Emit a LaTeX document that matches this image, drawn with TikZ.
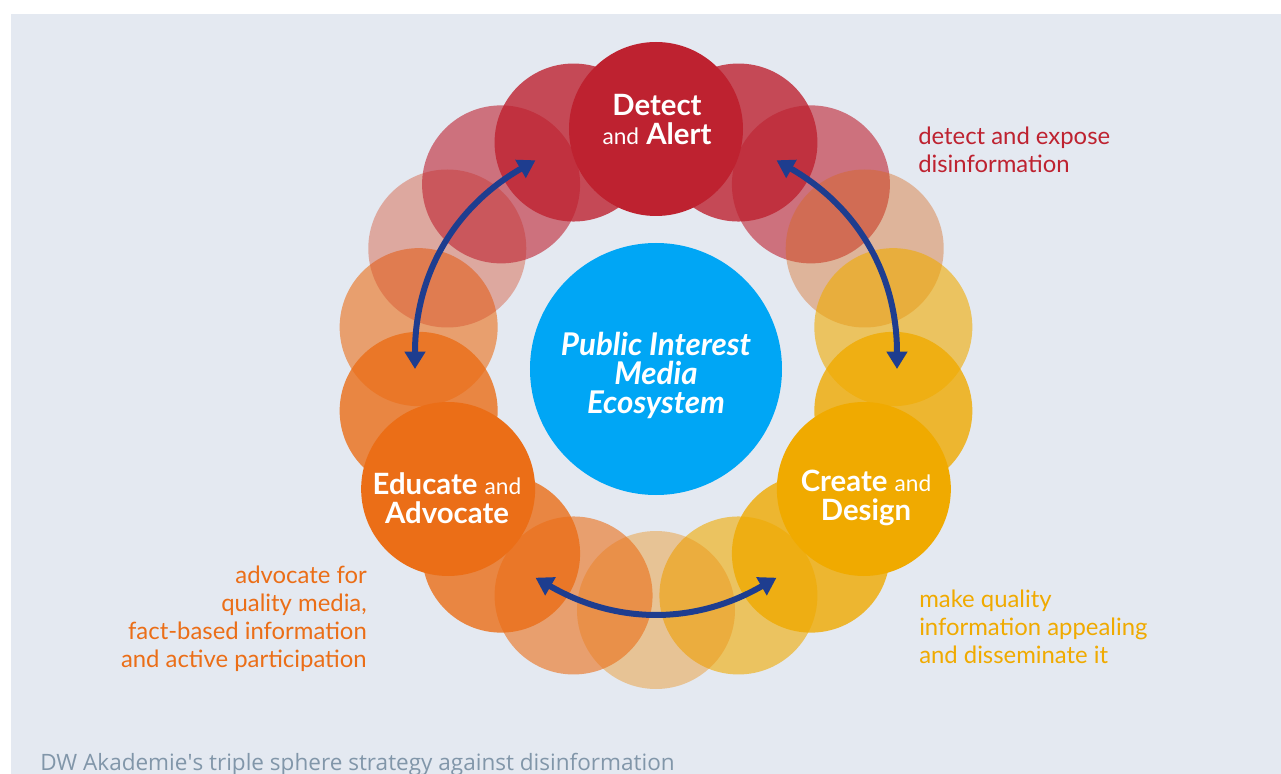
\documentclass[tikz,border=0pt]{standalone}
\usepackage{fontspec}
\setmainfont{Lato}
\newfontfamily\captionfont{Open Sans}
\usetikzlibrary{arrows.meta}

\definecolor{bgblue}{HTML}{E4E9F1}
\definecolor{detectred}{HTML}{BE2230}
\definecolor{createyellow}{HTML}{F0AA00}
\definecolor{educateorange}{HTML}{EB6E17}
\definecolor{ecoblue}{HTML}{00A6F5}
\definecolor{arrowblue}{HTML}{1E3D8F}
\definecolor{captiongrey}{HTML}{8196A9}
\colorlet{redyellow}{detectred!50!createyellow}
\colorlet{yelloworange}{createyellow!50!educateorange}
\colorlet{redorange}{detectred!50!educateorange}

\newcommand{\andword}{{\fontsize{17}{21.75}\selectfont\mdseries and}}

\tikzstyle{ring} = [circle,minimum size=118.5pt,inner sep=0pt]
\tikzstyle{sphere} = [circle,minimum size=130.5pt,inner sep=0pt]
\tikzstyle{hub} = [circle,minimum size=189pt,inner sep=0pt,fill=ecoblue]
\tikzstyle{hublabel} = [text=white,align=center,font=\fontsize{23.5}{21.75}\selectfont\bfseries\itshape]
\tikzstyle{spherelabel} = [text=white,align=center,font=\fontsize{22}{21.75}\selectfont\bfseries]
\tikzstyle{note} = [inner sep=0pt,align=left,font=\fontsize{17.9}{21}\selectfont]
\tikzstyle{arrowdecorate} = [{Triangle[length=13pt,width=15pt]}-{Triangle[length=13pt,width=15pt]},line width=4.5pt,draw=arrowblue]

\begin{document}
\begin{tikzpicture}[x=0.75pt,y=0.75pt]
    % frame
    \useasboundingbox (-656,-405) rectangle (625,369);
    \fill[white] (-656,-405) rectangle (625,369);
    \fill[bgblue] (-645,-405) rectangle (625,355);
    % ring
    \foreach \i/\ang/\col/\op in {
      1/70/detectred/0.8, 2/50/detectred/0.6, 3/30/redyellow/0.4,
      4/10/createyellow/0.6, 5/-10/createyellow/0.8,
      6/-50/createyellow/0.8, 7/-70/createyellow/0.6, 8/-90/yelloworange/0.4,
      9/-110/educateorange/0.6, 10/-130/educateorange/0.8,
      11/190/educateorange/0.8, 12/170/educateorange/0.6, 13/150/redorange/0.4,
      14/130/detectred/0.6, 15/110/detectred/0.8}
    {
        \node[ring, fill=\col, fill opacity=\op] (ring\i) at (\ang:241) {};
    };
    % spheres
    \foreach \nodename/\ang/\color in {
      detect/90/detectred, create/-30/createyellow, educate/210/educateorange}
    {
        \node[sphere, fill=\color] (\nodename) at (\ang:240) {};
    };
    \node[hub] (eco) at (0,0) {};
    \node[hublabel] at (0,-6) {Public Interest\\Media\\Ecosystem};
    \node[spherelabel] at (1,249) {Detect\\\andword{} Alert};
    \node[spherelabel] at (210,-129) {Create \andword\\Design};
    \node[spherelabel] at (-209,-129) {Educate \andword\\Advocate};
    % arrows
    \coordinate (leftup) at (120:241);
    \coordinate (leftdown) at (180:241);
    \coordinate (rightup) at (60:241);
    \coordinate (rightdown) at (0:241);
    \coordinate (bottomleft) at (240:241);
    \coordinate (bottomright) at (300:241);
    \draw[arrowdecorate] (leftup) to[bend right=30] (leftdown);
    \draw[arrowdecorate] (rightup) to[bend left=30] (rightdown);
    \draw[arrowdecorate] (bottomleft) to[bend right=30] (bottomright);
    % notes
    \node[note, text=detectred, anchor=base west] (detectnote) at (262,196) {detect and expose\\disinformation};
    \node[note, text=educateorange, anchor=base east, align=right] (educatenote) at (-289,-298) {advocate for\\quality media,\\fact-based information\\and active participation};
    \node[note, text=createyellow, anchor=base west] (createnote) at (263,-294) {make quality\\information appealing\\and disseminate it};
    \node[inner sep=0pt, anchor=base west, text=captiongrey, font=\captionfont\fontsize{16.9}{18}\selectfont] (caption) at (-616,-401) {DW Akademie\textquotesingle s triple sphere strategy against disinformation};
\end{tikzpicture}
\end{document}
